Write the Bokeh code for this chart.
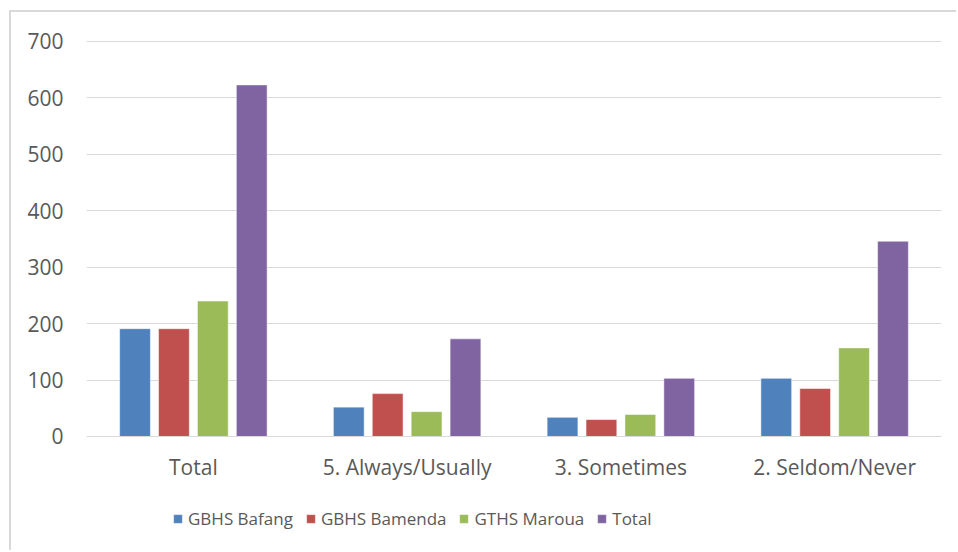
from bokeh.plotting import figure
from bokeh.models import FactorRange, Range1d, FixedTicker, Legend, LegendItem, ColumnDataSource
from bokeh.transform import dodge
from bokeh.embed import file_html
from bokeh.resources import INLINE

categories = ["Total", "5. Always/Usually", "3. Sometimes", "2. Seldom/Never"]
series_names = ["GBHS Bafang", "GBHS Bamenda", "GTHS Maroua", "Total"]
gbhs_bafang = [191, 52, 34, 103]
gbhs_bamenda = [191, 76, 30, 85]
gths_maroua = [240, 44, 39, 157]
total = [623, 173, 103, 346]
y_ticks = [0, 100, 200, 300, 400, 500, 600, 700]

colors = ["#4F81BD", "#C0504D", "#9BBB59", "#8064A2"]
FONT = "Open Sans"
FS = "21px"
TXT = "#595959"

source = ColumnDataSource(dict(cat=categories, s0=gbhs_bafang, s1=gbhs_bamenda,
                               s2=gths_maroua, s3=total))

# y range extends below 0 so the legend area lies inside the frame
p = figure(x_range=FactorRange(*categories, range_padding=0), y_range=Range1d(-205.6, 703.5),
           width=947, height=540, output_backend="svg", toolbar_location=None,
           min_border_left=75, min_border_right=17, min_border_top=27, min_border_bottom=0)
p.styles = {"margin-left": "9px", "margin-top": "10px",
            "border-left": "2px solid #D9D9D9", "border-top": "2px solid #D9D9D9"}
p.outline_line_color = None

offsets = [-0.273, -0.091, 0.091, 0.273]
renderers = []
for i, off in enumerate(offsets):
    r = p.vbar(x=dodge("cat", off, range=p.x_range), top="s%d" % i, width=0.144,
               source=source, fill_color=colors[i], line_color="white", line_alpha=0.5,
               line_width=1)
    renderers.append(r)

p.yaxis.ticker = FixedTicker(ticks=y_ticks)
p.ygrid.ticker = FixedTicker(ticks=y_ticks)
p.yaxis.axis_line_color = None
p.yaxis.major_tick_line_color = None
p.yaxis.minor_tick_line_color = None
p.yaxis.major_label_standoff = 17
p.xaxis.fixed_location = 0
p.xaxis.axis_line_color = "#D9D9D9"
p.xaxis.axis_line_width = 1
p.xaxis.major_tick_line_color = None
p.xaxis.major_label_standoff = 11
for ax in (p.xaxis, p.yaxis):
    ax.major_label_text_font = FONT
    ax.major_label_text_font_size = FS
    ax.major_label_text_color = TXT
p.xgrid.grid_line_color = None
p.ygrid.grid_line_color = "#D9D9D9"
p.ygrid.grid_line_width = 1

legend = Legend(items=[LegendItem(label=n, renderers=[r]) for n, r in zip(series_names, renderers)],
                orientation="horizontal", location=(86, 22), padding=0, margin=0,
                border_line_color=None, background_fill_alpha=0,
                glyph_width=11, glyph_height=11, label_standoff=5, spacing=12,
                label_text_font=FONT, label_text_font_size="17px", label_text_color=TXT)
p.add_layout(legend, "center")

open("out.html", "w").write(file_html(p, INLINE))
